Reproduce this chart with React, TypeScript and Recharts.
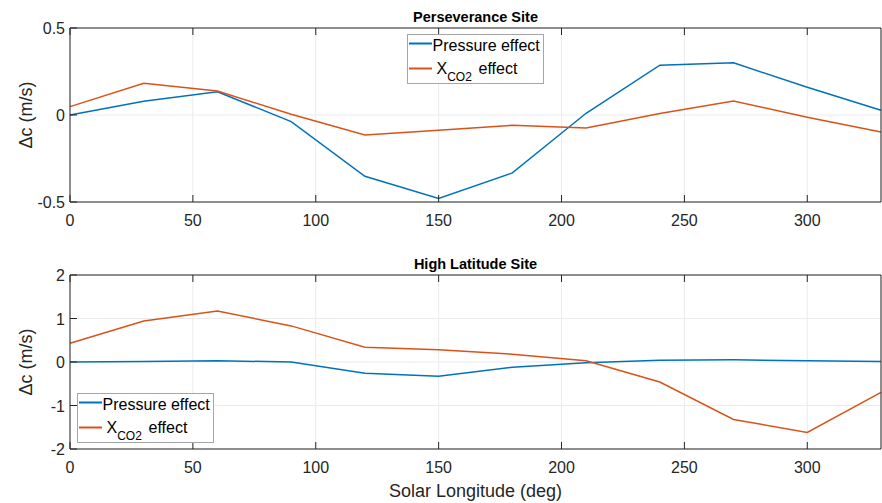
import React from 'react';
import { LineChart, Line, XAxis, YAxis, CartesianGrid, Legend, Label } from 'recharts';

const solarLongitude = [0, 30, 60, 90, 120, 150, 180, 210, 240, 270, 300, 330];

// Perseverance site
const persPressure = [0.0, 0.079, 0.134, -0.038, -0.352, -0.48, -0.333, 0.01, 0.286, 0.3, 0.159, 0.027];
const persCo2 = [0.048, 0.182, 0.138, 0.004, -0.115, -0.088, -0.059, -0.075, 0.008, 0.08, -0.013, -0.098];

// High latitude site
const highPressure = [0.0, 0.01, 0.03, 0.0, -0.26, -0.33, -0.12, -0.02, 0.04, 0.05, 0.03, 0.01];
const highCo2 = [0.43, 0.94, 1.17, 0.83, 0.34, 0.28, 0.18, 0.03, -0.46, -1.32, -1.62, -0.7];

const xTicks = [0, 50, 100, 150, 200, 250, 300];
const persYTicks = [-0.5, 0, 0.5];
const highYTicks = [-2, -1, 0, 1, 2];

const FONT = '"Liberation Sans", Arial, Helvetica, sans-serif';
const AXIS = '#262626';
const GRID = '#ebebeb';
const BLUE = '#0072BD';
const ORANGE = '#D95319';
const TICK_LEN = 7;

const toRows = (p: number[], c: number[]) =>
  solarLongitude.map((x, i) => ({ x, pressure: p[i], co2: c[i] }));

const persData = toRows(persPressure, persCo2);
const highData = toRows(highPressure, highCo2);

function BottomTick(props: any) {
  const { x, y, payload } = props;
  return (
    <g>
      <line x1={x} x2={x} y1={y} y2={y - TICK_LEN} stroke={AXIS} />
      <text x={x} y={y + 24} textAnchor="middle" fontSize={16} fill={AXIS} fontFamily={FONT}>
        {payload.value}
      </text>
    </g>
  );
}

function TopTick(props: any) {
  const { x, y } = props;
  return <line x1={x} x2={x} y1={y} y2={y + TICK_LEN} stroke={AXIS} />;
}

function LeftTick(props: any) {
  const { x, y, payload } = props;
  return (
    <g>
      <line x1={x} x2={x + TICK_LEN} y1={y} y2={y} stroke={AXIS} />
      <text x={x - 5} y={y + 6} textAnchor="end" fontSize={16} fill={AXIS} fontFamily={FONT}>
        {payload.value}
      </text>
    </g>
  );
}

function RightTick(props: any) {
  const { x, y } = props;
  return <line x1={x} x2={x - TICK_LEN} y1={y} y2={y} stroke={AXIS} />;
}

function BoxLegend() {
  return (
    <svg width={138} height={51} style={{ display: 'block' }}>
      <rect x={0.5} y={0.5} width={136} height={49} fill="#fff" stroke="#a6a6a6" />
      <line x1={2} x2={25} y1={9.5} y2={9.5} stroke={BLUE} strokeWidth={2} />
      <text x={25.5} y={17} fontSize={16} fill="#000" fontFamily={FONT}>Pressure effect</text>
      <line x1={2} x2={25} y1={34.5} y2={34.5} stroke={ORANGE} strokeWidth={2} />
      <text x={29.5} y={39.5} fontSize={16} fill="#000" fontFamily={FONT}>
        X
        <tspan fontSize={12} dy={7.5}>CO2</tspan>
        <tspan x={71.5} dy={-7.5}>effect</tspan>
      </text>
    </svg>
  );
}

function yLabel(props: any) {
  const vb = props.viewBox;
  const cy = vb.y + vb.height / 2;
  return (
    <text x={26} y={cy} transform={`rotate(-90 26 ${cy})`} textAnchor="middle" dominantBaseline="central"
      fontSize={18} fill={AXIS} fontFamily={FONT}>
      Δc (m/s)
    </text>
  );
}

function titleLabel(title: string) {
  return (props: any) => {
    const vb = props.viewBox;
    return (
      <text x={vb.x + vb.width / 2} y={vb.y + vb.height - 6} textAnchor="middle" fontSize={14.5}
        fontWeight="bold" fill="#000" fontFamily={FONT}>
        {title}
      </text>
    );
  };
}

function xLabel(props: any) {
  const vb = props.viewBox;
  return (
    <text x={vb.x + vb.width / 2} y={vb.y + 48} textAnchor="middle" fontSize={18} fill={AXIS} fontFamily={FONT}>
      Solar Longitude (deg)
    </text>
  );
}

interface PanelProps {
  data: { x: number; pressure: number; co2: number }[];
  title: string;
  yDomain: [number, number];
  yTicks: number[];
  height: number;
  margin: { top: number; right: number; bottom: number; left: number };
  legendPos: { left: number; top: number };
  showXLabel?: boolean;
}

function Panel({ data, title, yDomain, yTicks, height, margin, legendPos, showXLabel }: PanelProps) {
  return (
    <LineChart width={882} height={height} data={data} margin={margin}>
      <CartesianGrid stroke={GRID} />
      <XAxis dataKey="x" type="number" domain={[0, 330]} ticks={xTicks} interval={0} height={1}
        tickSize={0} tickMargin={0} tick={<BottomTick />} axisLine={{ stroke: AXIS }} tickLine={false}>
        {showXLabel && <Label content={xLabel} />}
      </XAxis>
      <XAxis xAxisId="top" orientation="top" dataKey="x" type="number" domain={[0, 330]} ticks={xTicks}
        interval={0} height={1} tickSize={0} tickMargin={0} tick={<TopTick />} axisLine={{ stroke: AXIS }}
        tickLine={false}>
        <Label content={titleLabel(title)} />
      </XAxis>
      <YAxis type="number" domain={yDomain} ticks={yTicks} interval={0} width={1} tickSize={0} tickMargin={0}
        tick={<LeftTick />} axisLine={{ stroke: AXIS }} tickLine={false}>
        <Label content={yLabel} />
      </YAxis>
      <YAxis yAxisId="right" orientation="right" type="number" domain={yDomain} ticks={yTicks} interval={0}
        width={1} tickSize={0} tickMargin={0} tick={<RightTick />} axisLine={{ stroke: AXIS }} tickLine={false} />
      <Legend layout="vertical" align="center" verticalAlign="middle" content={() => <BoxLegend />}
        wrapperStyle={{ left: legendPos.left, top: legendPos.top, width: 'auto', height: 'auto' }} />
      <Line type="linear" dataKey="pressure" name="Pressure effect" stroke={BLUE} strokeWidth={1.5}
        dot={false} isAnimationActive={false} />
      <Line type="linear" dataKey="co2" name="XCO2 effect" stroke={ORANGE} strokeWidth={1.5}
        dot={false} isAnimationActive={false} />
    </LineChart>
  );
}

export default function App() {
  return (
    <div style={{ position: 'absolute', left: 0, top: 0, width: 882, height: 503, background: '#fff' }}>
      <div style={{ position: 'absolute', left: 0, top: 0 }}>
        <Panel data={persData} title="Perseverance Site" yDomain={[-0.5, 0.5]} yTicks={persYTicks}
          height={250} margin={{ top: 27, right: 0, bottom: 47, left: 69 }} legendPos={{ left: 407, top: 34 }} />
      </div>
      <div style={{ position: 'absolute', left: 0, top: 250 }}>
        <Panel data={highData} title="High Latitude Site" yDomain={[-2, 2]} yTicks={highYTicks}
          height={253} margin={{ top: 24, right: 0, bottom: 53, left: 69 }} legendPos={{ left: 77, top: 143 }}
          showXLabel />
      </div>
    </div>
  );
}
